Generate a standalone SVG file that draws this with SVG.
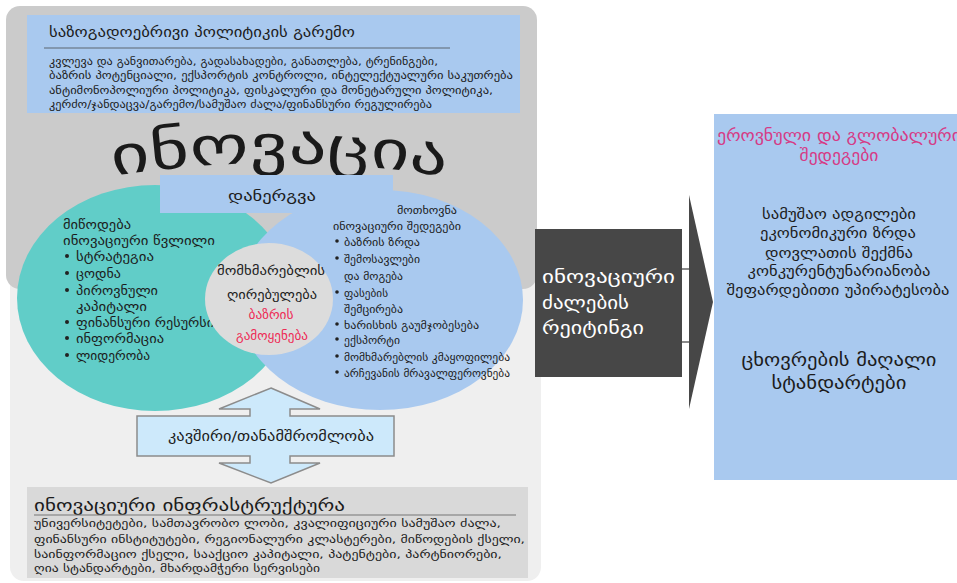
<svg xmlns="http://www.w3.org/2000/svg" width="957" height="583" viewBox="0 0 957 583">
<style>
text{font-family:"DejaVu Sans","Noto Sans",sans-serif;fill:#1c1c1c}
.blue{fill:#a9c9ef}
.t11{font-size:11px}
.t13{font-size:13px}
.t14{font-size:14px}
.mid{text-anchor:middle}
.bul{fill:#222}
.wt{fill:#ffffff;font-size:18px}
.rule{stroke:#5d6670;stroke-width:1.2}
</style>
<defs>
<path id="arc" d="M113,176 Q280,150 449,177"/>
</defs>
<rect width="957" height="583" fill="#ffffff"/>
<g id="backgrounds">
<rect x="10" y="270" width="531" height="311" rx="14" fill="#efefef"/>
<rect x="6" y="6" width="531" height="283" rx="14" fill="#cbcbcb"/>
</g>
<g id="policy">
<rect class="blue" x="27" y="15" width="493" height="98"/>
<text class="t14" x="49" y="37" textLength="306" lengthAdjust="spacingAndGlyphs">საზოგადოებრივი პოლიტიკის გარემო</text>
<line class="rule" x1="44" y1="48" x2="450" y2="48"/>
<text class="t11" x="49" y="65" textLength="389" lengthAdjust="spacingAndGlyphs">კვლევა და განვითარება, გადასახადები, განათლება, ტრენინგები,</text>
<text class="t11" x="49" y="79" textLength="464" lengthAdjust="spacingAndGlyphs">ბაზრის პოტენციალი, ექსპორტის კონტროლი, ინტელექტუალური საკუთრება</text>
<text class="t11" x="49" y="94" textLength="444" lengthAdjust="spacingAndGlyphs">ანტიმონოპოლიური პოლიტიკა, ფისკალური და მონეტარული პოლიტიკა,</text>
<text class="t11" x="49" y="108" textLength="383" lengthAdjust="spacingAndGlyphs">კერძო/ჯანდაცვა/გარემო/სამუშაო ძალა/ფინანსური რეგულირება</text>
</g>
<g id="innovation">
<text style="font-size:54px;fill:#1a1a1a"><textPath href="#arc" textLength="334" lengthAdjust="spacingAndGlyphs">ინოვაცია</textPath></text>
</g>
<g id="supply">
<ellipse cx="155" cy="298" rx="138" ry="113" fill="#61cdc8"/>
</g>
<g id="demand">
<ellipse class="blue" cx="380" cy="300" rx="143" ry="110"/>
</g>
<g id="implementation">
<rect class="blue" x="160" y="175" width="233" height="38"/>
<text class="t14 mid" x="272" y="201" textLength="88" lengthAdjust="spacingAndGlyphs" style="font-size:15px">დანერგვა</text>
</g>
<g id="supply-text" class="t13">
<text x="63" y="229" textLength="68" lengthAdjust="spacingAndGlyphs">მიწოდება</text>
<text x="63" y="245" textLength="152" lengthAdjust="spacingAndGlyphs">ინოვაციური წვლილი</text>
<circle class="bul" cx="67" cy="256" r="2"/>
<text x="76" y="261" textLength="78" lengthAdjust="spacingAndGlyphs">სტრატეგია</text>
<circle class="bul" cx="67" cy="273" r="2"/>
<text x="76" y="278" textLength="45" lengthAdjust="spacingAndGlyphs">ცოდნა</text>
<circle class="bul" cx="67" cy="290" r="2"/>
<text x="76" y="295" textLength="82" lengthAdjust="spacingAndGlyphs">პიროვნული</text>
<text x="76" y="311" textLength="71" lengthAdjust="spacingAndGlyphs">კაპიტალი</text>
<circle class="bul" cx="67" cy="322" r="2"/>
<text x="76" y="327" textLength="138" lengthAdjust="spacingAndGlyphs">ფინანსური რესურსი</text>
<circle class="bul" cx="67" cy="338" r="2"/>
<text x="76" y="343" textLength="88" lengthAdjust="spacingAndGlyphs">ინფორმაცია</text>
<circle class="bul" cx="67" cy="355" r="2"/>
<text x="76" y="360" textLength="74" lengthAdjust="spacingAndGlyphs">ლიდერობა</text>
</g>
<g id="demand-text" class="t11">
<text x="397" y="214" textLength="60" lengthAdjust="spacingAndGlyphs">მოთხოვნა</text>
<text x="333" y="230" textLength="128" lengthAdjust="spacingAndGlyphs">ინოვაციური შედეგები</text>
<circle class="bul" cx="337" cy="241" r="1.8"/>
<text x="344" y="246" textLength="76" lengthAdjust="spacingAndGlyphs">ბაზრის ზრდა</text>
<circle class="bul" cx="337" cy="258" r="1.8"/>
<text x="344" y="263" textLength="76" lengthAdjust="spacingAndGlyphs">შემოსავლები</text>
<text x="344" y="280" textLength="59" lengthAdjust="spacingAndGlyphs">და მოგება</text>
<circle class="bul" cx="337" cy="292" r="1.8"/>
<text x="344" y="297" textLength="44" lengthAdjust="spacingAndGlyphs">ფასების</text>
<text x="344" y="313" textLength="59" lengthAdjust="spacingAndGlyphs">შემცირება</text>
<circle class="bul" cx="337" cy="324" r="1.8"/>
<text x="344" y="329" textLength="135" lengthAdjust="spacingAndGlyphs">ხარისხის გაუმჯობესება</text>
<circle class="bul" cx="337" cy="339" r="1.8"/>
<text x="344" y="344" textLength="56" lengthAdjust="spacingAndGlyphs">ექსპორტი</text>
<circle class="bul" cx="337" cy="356" r="1.8"/>
<text x="344" y="361" textLength="166" lengthAdjust="spacingAndGlyphs">მომხმარებლის კმაყოფილება</text>
<circle class="bul" cx="337" cy="372" r="1.8"/>
<text x="344" y="377" textLength="166" lengthAdjust="spacingAndGlyphs">არჩევანის მრავალფეროვნება</text>
</g>
<g id="value">
<ellipse cx="269" cy="299" rx="64" ry="56" fill="#dcdcdc"/>
<text class="t13 mid" x="271" y="275" textLength="108" lengthAdjust="spacingAndGlyphs">მომხმარებლის</text>
<text class="t13 mid" x="272" y="299" textLength="90" lengthAdjust="spacingAndGlyphs">ღირებულება</text>
<text class="mid" x="271" y="319" textLength="45" lengthAdjust="spacingAndGlyphs" style="font-size:12px;fill:#ee2a55">ბაზრის</text>
<text class="mid" x="272" y="340" textLength="72" lengthAdjust="spacingAndGlyphs" style="font-size:12px;fill:#ee2a55">გამოყენება</text>
</g>
<g id="infrastructure">
<rect x="27" y="487" width="501" height="91" fill="#d9d9d9"/>
<text x="34" y="511" textLength="311" lengthAdjust="spacingAndGlyphs" style="font-size:17px">ინოვაციური ინფრასტრუქტურა</text>
<line class="rule" x1="34" y1="515" x2="516" y2="515" style="stroke:#777"/>
<text class="t11" x="34" y="527" textLength="467" lengthAdjust="spacingAndGlyphs">უნივერსიტეტები, სამთავრობო ლობი, კვალიფიციური სამუშაო ძალა,</text>
<text class="t11" x="34" y="543" textLength="491" lengthAdjust="spacingAndGlyphs">ფინანსური ინსტიტუტები, რეგიონალური კლასტერები, მიწოდების ქსელი,</text>
<text class="t11" x="34" y="558" textLength="468" lengthAdjust="spacingAndGlyphs">საინფორმაციო ქსელი, სააქციო კაპიტალი, პატენტები, პარტნიორები,</text>
<text class="t11" x="34" y="572" textLength="286" lengthAdjust="spacingAndGlyphs">ღია სტანდარტები, მხარდამჭერი სერვისები</text>
</g>
<g id="outcomes">
<rect class="blue" x="714" y="114" width="243" height="366"/>
<text class="mid" x="839" y="141" textLength="244" lengthAdjust="spacingAndGlyphs" style="font-size:16px;fill:#d63b86">ეროვნული და გლობალური</text>
<text class="mid" x="839" y="161" textLength="79" lengthAdjust="spacingAndGlyphs" style="font-size:16px;fill:#d63b86">შედეგები</text>
<text class="t14 mid" x="839" y="219" textLength="154" lengthAdjust="spacingAndGlyphs">სამუშაო ადგილები</text>
<text class="t14 mid" x="838" y="238" textLength="156" lengthAdjust="spacingAndGlyphs">ეკონომიკური ზრდა</text>
<text class="t14 mid" x="839" y="258" textLength="148" lengthAdjust="spacingAndGlyphs">დოვლათის შექმნა</text>
<text class="t14 mid" x="839" y="276" textLength="183" lengthAdjust="spacingAndGlyphs">კონკურენტუნარიანობა</text>
<text class="t14 mid" x="838" y="295" textLength="223" lengthAdjust="spacingAndGlyphs">შეფარდებითი უპირატესობა</text>
<text class="mid" x="839" y="366" textLength="195" lengthAdjust="spacingAndGlyphs" style="font-size:18px">ცხოვრების მაღალი</text>
<text class="mid" x="839" y="389" textLength="135" lengthAdjust="spacingAndGlyphs" style="font-size:18px">სტანდარტები</text>
</g>
<g id="connectors">
<g id="linkage">
<path d="M271,388 L320,409 L290,409 L290,416 L394,416 L394,456 L290,456 L290,463 L320,463 L271,483 L219,463 L250,463 L250,456 L137,456 L137,416 L250,416 L250,409 L219,409 Z" fill="#cde9fb" stroke="#8c8c8c" stroke-width="1.5"/>
<text class="t14 mid" x="271" y="441" textLength="206" lengthAdjust="spacingAndGlyphs">კავშირი/თანამშრომლობა</text>
</g>
<g id="rating">
<rect x="535" y="229" width="147" height="148" fill="#474747"/>
<path d="M689,195 L713,302 L689,409 Z" fill="#474747"/>
<line x1="682" y1="269" x2="689" y2="269" stroke="#8a8a8a" stroke-width="2"/>
<line x1="682" y1="342" x2="689" y2="342" stroke="#8a8a8a" stroke-width="2"/>
<text class="wt" x="542" y="283" textLength="133" lengthAdjust="spacingAndGlyphs">ინოვაციური</text>
<text class="wt" x="542" y="309" textLength="87" lengthAdjust="spacingAndGlyphs">ძალების</text>
<text class="wt" x="542" y="334" textLength="102" lengthAdjust="spacingAndGlyphs">რეიტინგი</text>
</g>
</g>
</svg>
